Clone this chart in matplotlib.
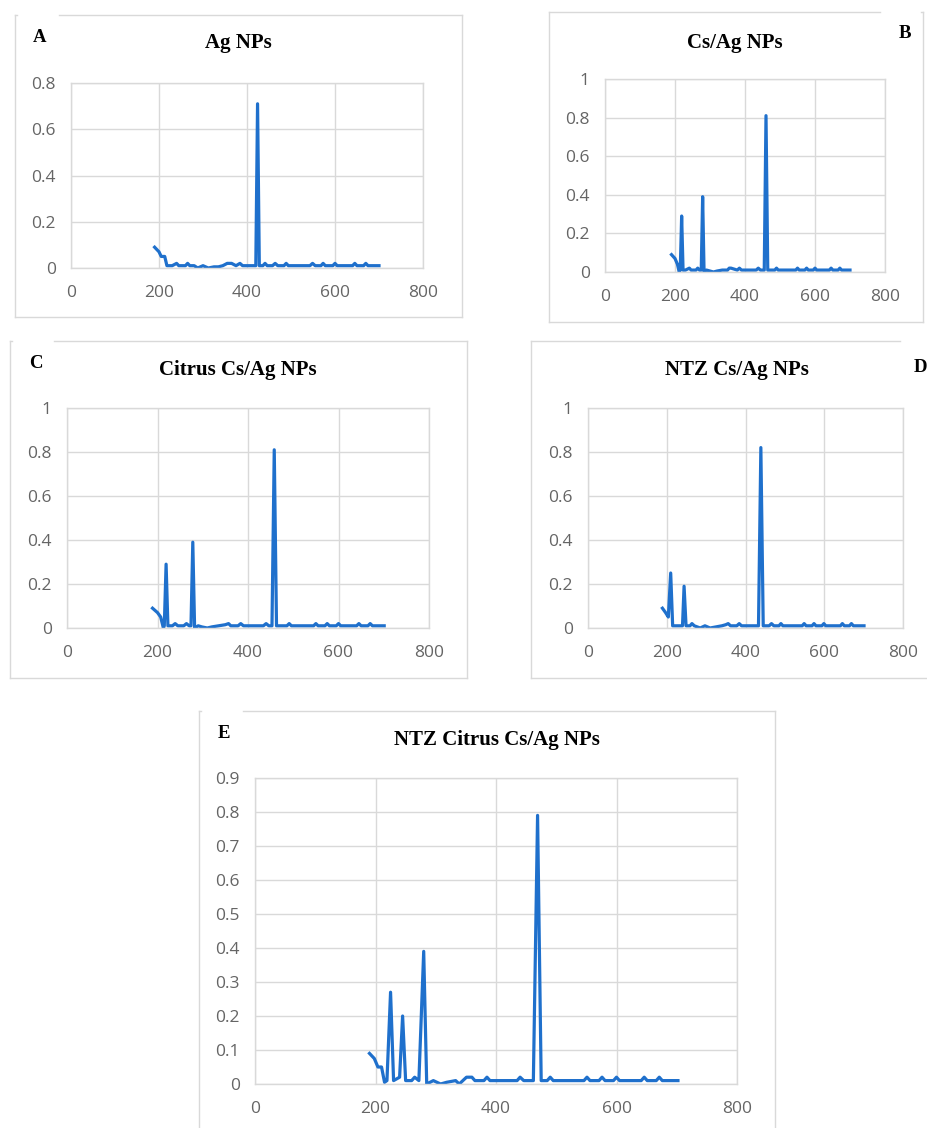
import matplotlib
matplotlib.use("Agg")
import matplotlib.pyplot as plt
from matplotlib.lines import Line2D

W, H = 927, 1128
LINE_COLOR = "#1f70cc"
GRID_COLOR = "#d9d9d9"
TICK_COLOR = "#656565"

# panel A - Ag NPs
a_x = [190, 200, 205, 213, 218, 230, 240, 245, 260, 265, 270, 280, 288, 300, 312, 325, 335,
       345, 355, 365, 375, 384, 390, 420, 424, 428, 436, 441, 446, 458, 464, 470, 484, 489,
       494, 543, 549, 555, 568, 573, 578, 595, 600, 605, 640, 645, 650, 665, 670, 675, 700]
a_y = [0.09, 0.07, 0.05, 0.05, 0.01, 0.01, 0.02, 0.01, 0.01, 0.02, 0.01, 0.01, 0.0, 0.01, 0.0, 0.005, 0.005,
       0.01, 0.02, 0.02, 0.01, 0.02, 0.01, 0.01, 0.71, 0.01, 0.01, 0.02, 0.01, 0.01, 0.02, 0.01, 0.01, 0.02,
       0.01, 0.01, 0.02, 0.01, 0.01, 0.02, 0.01, 0.01, 0.02, 0.01, 0.01, 0.02, 0.01, 0.01, 0.02, 0.01, 0.01]

# panel B - Cs/Ag NPs
b_x = [190, 200, 207, 212, 215, 219, 223, 230, 241, 246, 260, 265, 270, 275, 279, 283, 290, 300,
       310, 320, 335, 350, 355, 360, 378, 384, 390, 432, 438, 444, 455, 460, 465, 485, 490, 495,
       545, 550, 555, 571, 576, 581, 595, 600, 605, 641, 646, 651, 666, 671, 676, 700]
b_y = [0.09, 0.07, 0.04, 0.0, 0.01, 0.29, 0.01, 0.01, 0.02, 0.01, 0.01, 0.02, 0.01, 0.01, 0.39, 0.0, 0.01, 0.005,
       0.0, 0.005, 0.01, 0.01, 0.02, 0.02, 0.01, 0.02, 0.01, 0.01, 0.02, 0.01, 0.01, 0.81, 0.01, 0.01, 0.02, 0.01,
       0.01, 0.02, 0.01, 0.01, 0.02, 0.01, 0.01, 0.02, 0.01, 0.01, 0.02, 0.01, 0.01, 0.02, 0.01, 0.01]

# panel C - Citrus Cs/Ag NPs
c_x = [189, 200, 207, 213, 215, 219, 223, 233, 239, 245, 258, 264, 270, 274, 278, 282, 290, 298,
       310, 320, 335, 350, 357, 362, 378, 384, 390, 434, 440, 446, 453, 458, 463, 486, 491, 496,
       545, 550, 555, 570, 575, 580, 595, 600, 605, 640, 645, 650, 665, 670, 675, 701]
c_y = [0.09, 0.07, 0.05, 0.0, 0.01, 0.29, 0.01, 0.01, 0.02, 0.01, 0.01, 0.02, 0.01, 0.01, 0.39, 0.0, 0.01, 0.005,
       0.0, 0.005, 0.01, 0.015, 0.02, 0.01, 0.01, 0.02, 0.01, 0.01, 0.02, 0.01, 0.01, 0.81, 0.01, 0.01, 0.02, 0.01,
       0.01, 0.02, 0.01, 0.01, 0.02, 0.01, 0.01, 0.02, 0.01, 0.01, 0.02, 0.01, 0.01, 0.02, 0.01, 0.01]

# panel D - NTZ Cs/Ag NPs
d_x = [189, 197, 204, 210, 215, 240, 244, 249, 259, 264, 270, 285, 297, 310, 325, 340, 350, 356,
       362, 378, 384, 390, 433, 439, 445, 460, 466, 472, 485, 490, 495, 544, 549, 554, 569, 574,
       579, 594, 599, 604, 641, 646, 651, 664, 669, 674, 701]
d_y = [0.09, 0.07, 0.05, 0.25, 0.01, 0.01, 0.19, 0.01, 0.01, 0.02, 0.01, 0.0, 0.01, 0.0, 0.005, 0.01, 0.015, 0.02,
       0.01, 0.01, 0.02, 0.01, 0.01, 0.82, 0.01, 0.01, 0.02, 0.01, 0.01, 0.02, 0.01, 0.01, 0.02, 0.01, 0.01, 0.02,
       0.01, 0.01, 0.02, 0.01, 0.01, 0.02, 0.01, 0.01, 0.02, 0.01, 0.01]

# panel E - NTZ Citrus Cs/Ag NPs
e_x = [190, 198, 204, 210, 215, 219, 225, 230, 240, 245, 250, 260, 265, 272, 280, 285, 296, 308,
       318, 333, 339, 351, 360, 365, 380, 385, 390, 435, 440, 446, 462, 469, 475, 485, 490, 495,
       546, 551, 556, 571, 576, 581, 595, 600, 605, 641, 646, 651, 666, 671, 676, 702]
e_y = [0.09, 0.075, 0.05, 0.05, 0.005, 0.01, 0.27, 0.01, 0.02, 0.2, 0.01, 0.01, 0.02, 0.01, 0.39, 0.0, 0.01, 0.0,
       0.005, 0.01, 0.0, 0.02, 0.02, 0.01, 0.01, 0.02, 0.01, 0.01, 0.02, 0.01, 0.01, 0.79, 0.01, 0.01, 0.02, 0.01,
       0.01, 0.02, 0.01, 0.01, 0.02, 0.01, 0.01, 0.02, 0.01, 0.01, 0.02, 0.01, 0.01, 0.02, 0.01, 0.01]

titles = ["Ag NPs", "Cs/Ag NPs", "Citrus Cs/Ag NPs", "NTZ Cs/Ag NPs", "NTZ Citrus Cs/Ag NPs"]
letters = ["A", "B", "C", "D", "E"]
y_max = [0.8, 1.0, 1.0, 1.0, 0.9]
y_step = [0.2, 0.2, 0.2, 0.2, 0.1]
x_ticks = [0, 200, 400, 600, 800]

# layout in pixels: plot area (left, top, right, bottom)
plot_px = [(71, 83, 423, 268), (605, 79, 885, 272), (67, 408, 429, 628),
           (588, 408, 903, 628), (255, 778, 737, 1084)]
title_px = [(238, 43), (735, 43), (238, 370), (737, 370), (497, 740)]
letter_px = [(40, 37, "center"), (905, 33, "center"), (36, 363, "center"),
             (914, 368, "left"), (224, 734, "center")]
# outer frames: (left, top, right, bottom, top-gap start, top-gap end)
frame_px = [(15, 15, 462, 317, 17, 59), (549, 12, 923, 322, 880, 921),
            (10, 341, 467, 678, 12, 54), (531, 341, 940, 678, 900, 940),
            (199, 711, 775, 1140, 201, 243)]


def fx(px):
    return px / W


def fy(py):
    return 1 - py / H


fig = plt.figure(figsize=(W / 100, H / 100), dpi=100)
fig.patch.set_facecolor("white")


def seg(x0, y0, x1, y1):
    fig.add_artist(Line2D([fx(x0), fx(x1)], [fy(y0), fy(y1)], color=GRID_COLOR,
                          linewidth=1.0, transform=fig.transFigure))


for (l, t, r, b, g0, g1) in frame_px:
    seg(l, t, l, b)
    seg(r, t, r, b)
    seg(l, b, r, b)
    seg(l, t, g0, t)
    seg(g1, t, r, t)

all_x = [a_x, b_x, c_x, d_x, e_x]
all_y = [a_y, b_y, c_y, d_y, e_y]

for i in range(5):
    l, t, r, b = plot_px[i]
    assert len(all_x[i]) == len(all_y[i])
    ax = fig.add_axes([fx(l), fy(b), (r - l) / W, (b - t) / H])
    ax.plot(all_x[i], all_y[i], color=LINE_COLOR, linewidth=2.3, solid_joinstyle="round")
    ax.set_xlim(0, 800)
    ax.set_ylim(0, y_max[i])
    ax.set_xticks(x_ticks)
    n = int(round(y_max[i] / y_step[i]))
    yt = [round(k * y_step[i], 1) for k in range(n + 1)]
    ax.set_yticks(yt)
    ax.set_yticklabels(["0" if v == 0 else ("1" if v == 1 else f"{v:g}") for v in yt])
    ax.grid(True, color=GRID_COLOR, linewidth=1.0)
    ax.set_axisbelow(True)
    for s in ax.spines.values():
        s.set_color(GRID_COLOR)
        s.set_linewidth(1.0)
    ax.tick_params(length=0, colors=TICK_COLOR, labelsize=12.5)
    ax.tick_params(axis="y", pad=11)
    ax.tick_params(axis="x", pad=12)
    for lab in ax.get_xticklabels() + ax.get_yticklabels():
        lab.set_fontfamily("Open Sans")

    tx, ty = title_px[i]
    fig.text(fx(tx), fy(ty), titles[i], ha="center", va="center", fontsize=15,
             fontweight="bold", family="Liberation Serif")
    lx, ly, ha = letter_px[i]
    fig.text(fx(lx), fy(ly), letters[i], ha=ha, va="center", fontsize=13.5,
             fontweight="bold", family="Liberation Serif")

fig.savefig("out.png", dpi=100)
